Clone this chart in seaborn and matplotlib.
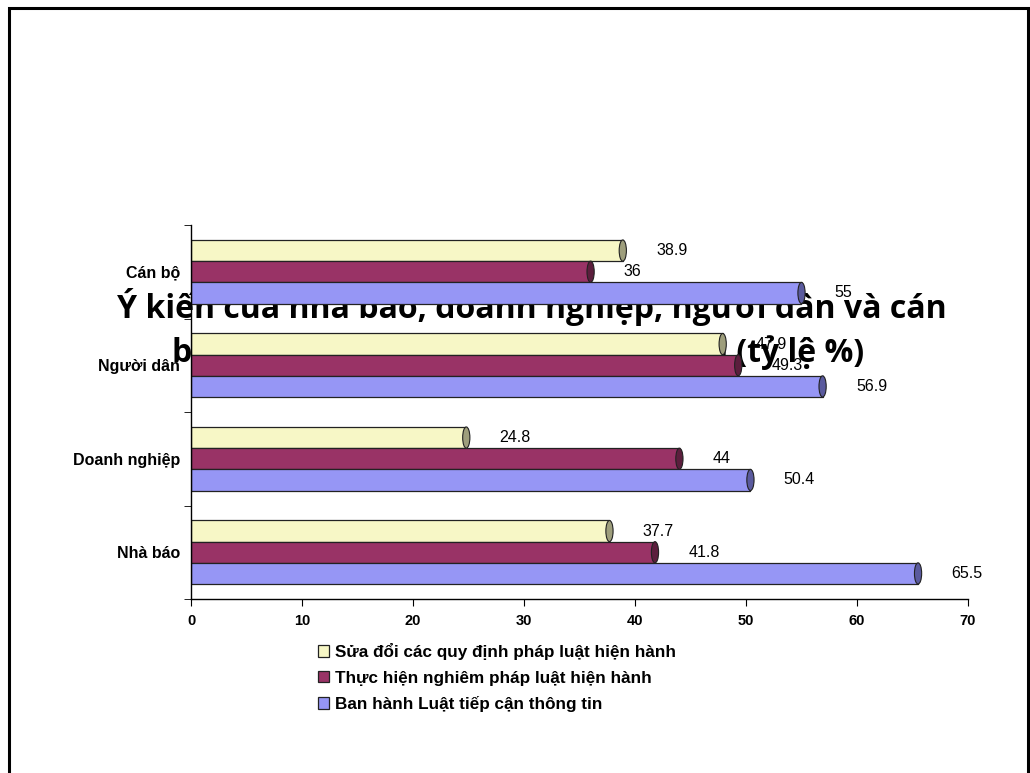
import pandas as pd
import seaborn as sns
import matplotlib.pyplot as plt
from matplotlib.patches import Ellipse, Rectangle

# du lieu doc tu hinh
nhom = ['Cán bộ', 'Người dân', 'Doanh nghiệp', 'Nhà báo']
giai_phap = ['Sửa đổi các quy định pháp luật hiện hành',
             'Thực hiện nghiêm pháp luật hiện hành',
             'Ban hành Luật tiếp cận thông tin']
sua_doi = [38.9, 47.9, 24.8, 37.7]
thuc_hien = [36, 49.3, 44, 41.8]
ban_hanh = [55, 56.9, 50.4, 65.5]
mau = ['#F7F7C6', '#993366', '#9696F5']
mau_nap = ['#9E9E7C', '#5C1E3D', '#5A5A9E']
tieu_de = ['Ý kiến của nhà báo, doanh nghiệp, người dân và cán',
           'bộ về các giải pháp bảo đảm quyền (tỷ lệ %)']

rows = []
for ten, vals in zip(giai_phap, [sua_doi, thuc_hien, ban_hanh]):
    for g, v in zip(nhom, vals):
        rows.append({'nhom': g, 'giai_phap': ten, 'ty_le': v})
df = pd.DataFrame(rows)

sns.set_style('white')
plt.rcParams['font.family'] = ['Liberation Sans', 'DejaVu Sans']
plt.rcParams['text.color'] = 'black'
plt.rcParams['xtick.color'] = 'black'
plt.rcParams['ytick.color'] = 'black'

fig = plt.figure(figsize=(10.3, 7.73), dpi=100)
ax = fig.add_axes([191 / 1030, 1 - 599 / 773, (968 - 191) / 1030, (599 - 225) / 773])
ax.set_facecolor('none')

sns.barplot(data=df, y='nhom', x='ty_le', hue='giai_phap', order=nhom,
            hue_order=giai_phap, palette=mau, width=0.68, orient='h',
            edgecolor='#222222', linewidth=0.9, saturation=1, ax=ax)

# nap tru o dau thanh
for cont, c in zip(ax.containers, mau_nap):
    for p in cont:
        x1 = p.get_x() + p.get_width()
        yc = p.get_y() + p.get_height() / 2
        ax.add_patch(Ellipse((x1, yc), 0.65, p.get_height(), facecolor=c,
                             edgecolor='#222222', linewidth=0.8, zorder=3))
    ax.bar_label(cont, labels=[f'{v:g}' for v in cont.datavalues],
                 padding=24, fontsize=11.5, color='black', zorder=4)

handles, labels = ax.get_legend_handles_labels()
ax.get_legend().remove()

ax.set_xlim(0, 70)
ax.set_ylim(3.5, -0.5)
ax.set_xticks(range(0, 71, 10))
ax.set_xlabel('')
ax.set_ylabel('')
for s in ['top', 'right']:
    ax.spines[s].set_visible(False)
for s in ['left', 'bottom']:
    ax.spines[s].set_color('black')
    ax.spines[s].set_linewidth(1)
ax.set_yticks([-0.5, 0.5, 1.5, 2.5, 3.5], minor=True)
ax.tick_params(axis='y', which='major', length=0, pad=8)
ax.tick_params(axis='y', which='minor', length=5, direction='out', left=True)
ax.tick_params(axis='x', length=5, direction='out', bottom=True, pad=6)
for t in ax.get_yticklabels():
    t.set_fontweight('bold')
    t.set_fontsize(11.5)
for t in ax.get_xticklabels():
    t.set_fontweight('bold')
    t.set_fontsize(10.5)

leg = fig.legend(handles, labels, loc='upper left', bbox_to_anchor=(318 / 1030, 1 - 643 / 773),
                 frameon=False, borderpad=0, borderaxespad=0,
                 handlelength=0.65, handleheight=0.65, handletextpad=0.35,
                 labelspacing=0.62, prop={'weight': 'bold', 'size': 12.3})
for h in leg.legend_handles:
    h.set_edgecolor('#222222')

# tieu de nam duoi cac thanh
fig.text(532 / 1030, 1 - 318 / 773, tieu_de[0], ha='center', va='baseline',
         fontsize=23, fontweight='bold', family=['Open Sans', 'DejaVu Sans'], zorder=-1)
fig.text(518 / 1030, 1 - 362 / 773, tieu_de[1], ha='center', va='baseline',
         fontsize=23, fontweight='bold', family=['Open Sans', 'DejaVu Sans'], zorder=-1)

fig.patches.append(Rectangle((9 / 1030, -0.02), (1028 - 9) / 1030, 1.02 - 8 / 773,
                             transform=fig.transFigure, fill=False, edgecolor='black',
                             linewidth=2.2))

fig.savefig('out.png', dpi=100)
